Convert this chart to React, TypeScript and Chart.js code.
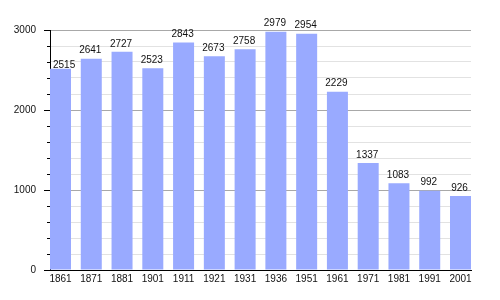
import React, { useEffect, useRef } from "react";
import { Chart, registerables } from "chart.js";

Chart.register(...registerables);

const years = ["1861", "1871", "1881", "1901", "1911", "1921", "1931", "1936", "1951", "1961", "1971", "1981", "1991", "2001"];
const population = [2515, 2641, 2727, 2523, 2843, 2673, 2758, 2979, 2954, 2229, 1337, 1083, 992, 926];
const yMajorTicks = [0, 1000, 2000, 3000];

const FONT = "'Liberation Sans', Arial, Helvetica, sans-serif";

const yTickMarks = {
  id: "yTickMarks",
  afterDraw(chart: any) {
    const y = chart.scales.y;
    const ctx = chart.ctx;
    const left = chart.chartArea.left;
    ctx.save();
    ctx.strokeStyle = "#000";
    ctx.lineWidth = 1;
    for (let v = 0; v <= 3000; v += 200) {
      const py = Math.round(y.getPixelForValue(v)) + 0.5;
      const len = yMajorTicks.includes(v) ? 6 : 3;
      ctx.beginPath();
      ctx.moveTo(left - len, py);
      ctx.lineTo(left, py);
      ctx.stroke();
    }
    ctx.restore();
  },
};

const valueLabels = {
  id: "valueLabels",
  afterDatasetsDraw(chart: any) {
    const ctx = chart.ctx;
    const meta = chart.getDatasetMeta(0);
    ctx.save();
    ctx.font = `10px ${FONT}`;
    ctx.fillStyle = "#111";
    ctx.textAlign = "center";
    ctx.textBaseline = "bottom";
    meta.data.forEach((bar: any, i: number) => {
      const txt = String(population[i]);
      const w = ctx.measureText(txt).width;
      let x = bar.x - 1;
      let y = bar.y - 3;
      const minX = chart.chartArea.left + 3 + w / 2;
      if (x < minX) {
        x = minX;
        y = bar.y + 1;
      }
      ctx.fillText(txt, x, y);
    });
    ctx.restore();
  },
};

export default function App() {
  const ref = useRef<HTMLCanvasElement>(null);
  useEffect(() => {
    if (!ref.current) return;
    const chart = new Chart(ref.current, {
      type: "bar",
      data: {
        datasets: [
          {
            data: population.map((v, i) => ({ x: i, y: v })),
            backgroundColor: "#99aaff",
            borderWidth: 0,
            barPercentage: 0.6825,
            categoryPercentage: 1,
          },
        ],
      },
      options: {
        responsive: false,
        animation: false,
        layout: { padding: { top: 30, right: 29, left: 0, bottom: 0 } },
        plugins: { legend: { display: false }, tooltip: { enabled: false } },
        scales: {
          x: {
            type: "linear",
            offset: false,
            min: -0.3413,
            max: 13.3413,
            afterBuildTicks: (scale: any) => {
              scale.ticks = years.map((_, i) => ({ value: i }));
            },
            afterFit: (scale: any) => {
              scale.height = 30;
            },
            ticks: {
              autoSkip: false,
              maxRotation: 0,
              padding: 3,
              color: "#111",
              font: { family: FONT, size: 10 },
              callback: (v: any) => years[v as number] ?? "",
            },
            grid: { display: true, offset: false, drawOnChartArea: false, drawTicks: false },
            border: { display: true, color: "#000", width: 1 },
          },
          y: {
            min: 0,
            max: 3000,
            afterFit: (scale: any) => {
              scale.width = 50;
            },
            ticks: {
              stepSize: 200,
              padding: 14,
              color: "#111",
              font: { family: FONT, size: 10 },
              callback: (v: any) => (yMajorTicks.includes(v as number) ? String(v) : ""),
            },
            grid: {
              drawTicks: false,
              color: (c: any) => (yMajorTicks.includes(c.tick?.value) ? "#a8a8a8" : "#e2e2e2"),
            },
            border: { display: true, color: "#000", width: 1 },
          },
        },
      },
      plugins: [yTickMarks, valueLabels],
    });
    return () => chart.destroy();
  }, []);
  return (
    <div style={{ position: "fixed", left: 0, top: 0, width: 500, height: 300, background: "#fff" }}>
      <canvas ref={ref} width={500} height={300} style={{ display: "block" }} />
    </div>
  );
}
